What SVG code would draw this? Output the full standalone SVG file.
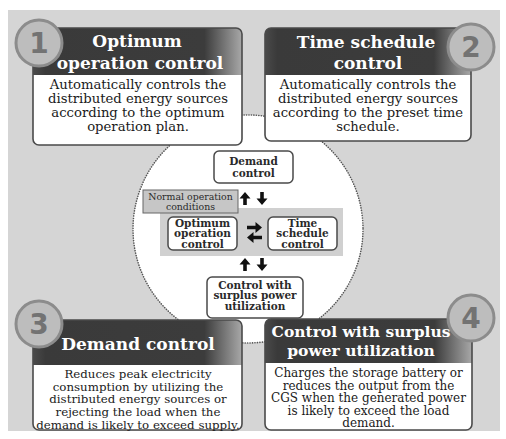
<svg xmlns="http://www.w3.org/2000/svg" width="506" height="439" viewBox="0 0 506 439">
<defs>
<linearGradient id="hdr" x1="0" y1="0" x2="1" y2="0">
<stop offset="0" stop-color="#4a4a4a"/>
<stop offset="0.06" stop-color="#3a3a3a"/>
<stop offset="0.82" stop-color="#3c3c3c"/>
<stop offset="1" stop-color="#a8a8a8"/>
</linearGradient>
<path id="up" d="M0,0 L5.5,6.5 L1.8,6.5 L1.8,13 L-1.8,13 L-1.8,6.5 L-5.5,6.5 Z"/>
<path id="right" d="M0,0 L-6.5,-5.5 L-6.5,-1.8 L-15,-1.8 L-15,1.8 L-6.5,1.8 L-6.5,5.5 Z"/>
<style>
.hd{fill:url(#hdr)}
.frame{fill:none;stroke:#4a4a4a;stroke-width:1.6}
.body{fill:#fff}
.ht{font-family:"DejaVu Serif",serif;font-weight:bold;fill:#fff;text-anchor:middle}
.bt{font-family:"DejaVu Serif",serif;fill:#1a1a1a;text-anchor:middle}
.num circle{fill:#bdbdbd;stroke:#8c8c8c;stroke-width:3}
.num text{font-family:"DejaVu Sans",sans-serif;font-weight:bold;font-size:28px;fill:#737373;text-anchor:middle}
.sb{fill:#fff;stroke:#4a4a4a;stroke-width:1.5}
.st{font-family:"DejaVu Serif",serif;font-weight:bold;font-size:10.5px;fill:#2a2a2a;text-anchor:middle}
.arr{fill:#111}
</style>
</defs>
<rect x="0" y="0" width="506" height="439" fill="#fff"/>
<rect x="8" y="10" width="492" height="421" fill="#d5d5d5"/>
<ellipse cx="248" cy="229" rx="115" ry="114" fill="#fff" stroke="#555" stroke-width="1.6" stroke-dasharray="0.1 2.4" stroke-linecap="round"/>

<g id="box1">
<rect class="body" x="33" y="28" width="209" height="117" rx="6"/>
<path class="hd" d="M39,28 H236 A6,6 0 0 1 242,34 V75 H33 V34 A6,6 0 0 1 39,28 Z"/>
<rect class="frame" x="33" y="28" width="209" height="117" rx="6"/>
<text class="ht" font-size="17" x="137" y="47">Optimum</text>
<text class="ht" font-size="17" x="140" y="69">operation control</text>
<text class="bt" font-size="13.2" x="138" y="89">Automatically controls the</text>
<text class="bt" font-size="13.2" x="138" y="103">distributed energy sources</text>
<text class="bt" font-size="13.2" x="138" y="117">according to the optimum</text>
<text class="bt" font-size="13.2" x="138" y="131">operation plan.</text>
<g class="num"><circle cx="39" cy="43" r="23"/><text x="39" y="53">1</text></g>
</g>

<g id="box2">
<rect class="body" x="265" y="28" width="206" height="113" rx="6"/>
<path class="hd" d="M271,28 H465 A6,6 0 0 1 471,34 V75 H265 V34 A6,6 0 0 1 271,28 Z"/>
<rect class="frame" x="265" y="28" width="206" height="113" rx="6"/>
<text class="ht" font-size="17" x="366" y="48">Time schedule</text>
<text class="ht" font-size="17" x="368" y="69">control</text>
<text class="bt" font-size="13.2" x="368" y="89">Automatically controls the</text>
<text class="bt" font-size="13.2" x="368" y="103">distributed energy sources</text>
<text class="bt" font-size="13.2" x="368" y="117">according to the preset time</text>
<text class="bt" font-size="13.2" x="368" y="131">schedule.</text>
<g class="num"><circle cx="471" cy="47" r="23"/><text x="471" y="57">2</text></g>
</g>

<g id="box3">
<rect class="body" x="33" y="320" width="209" height="110" rx="6"/>
<path class="hd" d="M39,320 H236 A6,6 0 0 1 242,326 V365 H33 V326 A6,6 0 0 1 39,320 Z"/>
<rect class="frame" x="33" y="320" width="209" height="110" rx="6"/>
<text class="ht" font-size="17" x="138" y="350">Demand control</text>
<text class="bt" font-size="11.8" x="138" y="378">Reduces peak electricity</text>
<text class="bt" font-size="11.8" x="138" y="390.5">consumption by utilizing the</text>
<text class="bt" font-size="11.8" x="138" y="403">distributed energy sources or</text>
<text class="bt" font-size="11.8" x="138" y="415.5">rejecting the load when the</text>
<text class="bt" font-size="11.8" x="138" y="428.5">demand is likely to exceed supply.</text>
<g class="num"><circle cx="39" cy="324" r="23"/><text x="39" y="334">3</text></g>
</g>

<g id="box4">
<rect class="body" x="265" y="319" width="207" height="111" rx="6"/>
<path class="hd" d="M271,319 H466 A6,6 0 0 1 472,325 V363 H265 V325 A6,6 0 0 1 271,319 Z"/>
<rect class="frame" x="265" y="319" width="207" height="111" rx="6"/>
<text class="ht" font-size="15.5" x="361" y="337">Control with surplus</text>
<text class="ht" font-size="15.5" x="361" y="356">power utilization</text>
<text class="bt" font-size="12" x="368.5" y="377">Charges the storage battery or</text>
<text class="bt" font-size="12" x="368.5" y="389.5">reduces the output from the</text>
<text class="bt" font-size="12" x="368.5" y="402">CGS when the generated power</text>
<text class="bt" font-size="12" x="368.5" y="414.5">is likely to exceed the load</text>
<text class="bt" font-size="12" x="368.5" y="427">demand.</text>
<g class="num"><circle cx="471" cy="318" r="23"/><text x="471" y="328">4</text></g>
</g>

<rect x="160" y="208" width="183" height="48" fill="#d0d0d0"/>

<g id="c-demand">
<rect class="sb" x="214" y="151" width="79" height="32" rx="5"/>
<text class="st" font-size="11" x="253.5" y="165">Demand</text>
<text class="st" font-size="11" x="253.5" y="177">control</text>
</g>

<g id="c-normal">
<rect x="143" y="190" width="95" height="23" fill="#c6c6c6" stroke="#666" stroke-width="1"/>
<text x="190.5" y="199.5" font-family="DejaVu Serif, serif" font-size="9.4" fill="#2a2a2a" text-anchor="middle">Normal operation</text>
<text x="190.5" y="209.5" font-family="DejaVu Serif, serif" font-size="9.4" fill="#2a2a2a" text-anchor="middle">conditions</text>
</g>

<g id="c-optimum">
<rect class="sb" x="168" y="217" width="69" height="33" rx="5"/>
<text class="st" x="202.5" y="226.5">Optimum</text>
<text class="st" x="202.5" y="237">operation</text>
<text class="st" x="202.5" y="247.5">control</text>
</g>

<g id="c-time">
<rect class="sb" x="268" y="217" width="69" height="33" rx="5"/>
<text class="st" x="302.5" y="226.5">Time</text>
<text class="st" x="302.5" y="237">schedule</text>
<text class="st" x="302.5" y="247.5">control</text>
</g>

<g id="c-surplus">
<rect class="sb" x="207" y="277" width="96" height="41" rx="5"/>
<text class="st" x="255" y="288.5">Control with</text>
<text class="st" x="255" y="299">surplus power</text>
<text class="st" x="255" y="309.5">utilization</text>
</g>

<g id="connectors" class="arr">
<use href="#up" x="245" y="192"/>
<use href="#up" transform="translate(262,205) rotate(180)"/>
<use href="#right" x="262" y="227.5"/>
<use href="#right" transform="translate(247,237.5) rotate(180)"/>
<use href="#up" x="245" y="258"/>
<use href="#up" transform="translate(262,271) rotate(180)"/>
</g>
</svg>
